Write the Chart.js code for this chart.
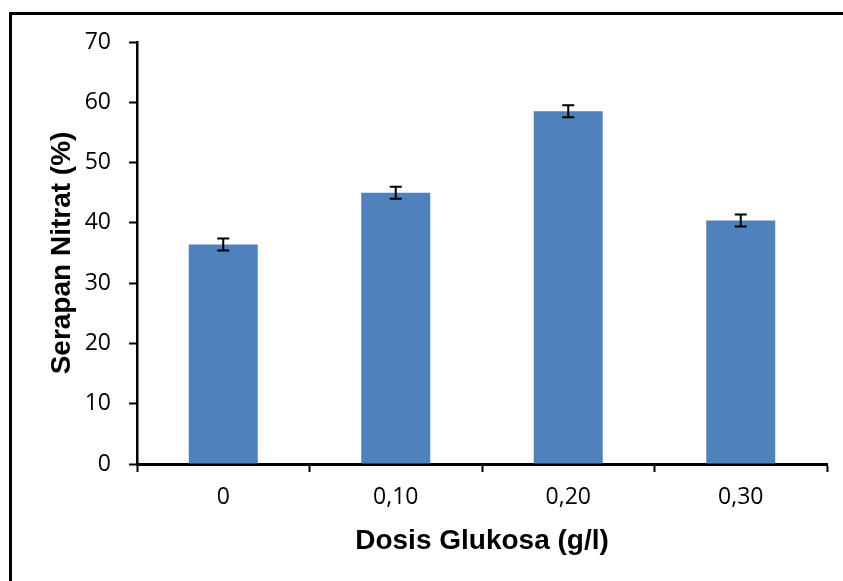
<!DOCTYPE html>
<html>
<head>
<meta charset="utf-8">
<script src="https://cdn.jsdelivr.net/npm/chart.js@4.4.0/dist/chart.umd.min.js"></script>
<style>
    html, body { margin: 0; padding: 0; background: #fff; overflow: hidden; }
    #wrap { position: relative; width: 843px; height: 581px; }
    #frame {
        position: absolute; left: 9px; top: 12px; width: 900px; height: 700px;
        border-left: 3px solid #000; border-top: 3px solid #000;
    }
    canvas { position: absolute; left: 0; top: 0; }
</style>
</head>
<body>
<div id="wrap">
    <div id="frame"></div>
    <canvas id="chart" width="843" height="581"></canvas>
</div>
<script>
// data
const categories = ['0', '0,10', '0,20', '0,30'];
const serapan = [36.4, 45.0, 58.5, 40.4];
const errors = [1.0, 1.0, 1.0, 1.0];
const yTicks = [0, 10, 20, 30, 40, 50, 60, 70];

const tickFont = { family: "'Open Sans', sans-serif", size: 23 };
const titleFont = { family: "'Liberation Sans', Arial, sans-serif", size: 28, weight: 'bold' };

// draw the error bars on top of the columns
const errorBars = {
    id: 'errorBars',
    afterDatasetsDraw(chart) {
        const ctx = chart.ctx;
        const meta = chart.getDatasetMeta(0);
        const y = chart.scales.y;
        ctx.save();
        ctx.strokeStyle = '#000';
        ctx.lineWidth = 2;
        meta.data.forEach((bar, i) => {
            const top = y.getPixelForValue(serapan[i] + errors[i]);
            const bot = y.getPixelForValue(serapan[i] - errors[i]);
            ctx.beginPath();
            ctx.moveTo(bar.x, top); ctx.lineTo(bar.x, bot);
            ctx.moveTo(bar.x - 6, top); ctx.lineTo(bar.x + 6, top);
            ctx.moveTo(bar.x - 6, bot); ctx.lineTo(bar.x + 6, bot);
            ctx.stroke();
        });
        ctx.restore();
    }
};

new Chart(document.getElementById('chart'), {
    type: 'bar',
    data: {
        labels: categories,
        datasets: [{
            data: serapan,
            backgroundColor: '#4F81BD',
            barPercentage: 0.4,
            categoryPercentage: 1.0
        }]
    },
    options: {
        responsive: false,
        animation: false,
        devicePixelRatio: 1,
        layout: { padding: { left: 45, right: 16, top: 42, bottom: 23 } },
        plugins: { legend: { display: false }, tooltip: { enabled: false } },
        scales: {
            x: {
                offset: true,
                afterFit: (scale) => { scale.height = 94; },
                grid: {
                    offset: true,
                    drawOnChartArea: false,
                    drawTicks: true,
                    tickLength: 8,
                    tickWidth: 2,
                    tickColor: '#000',
                    color: '#000'
                },
                border: { display: true, color: '#000', width: 3 },
                ticks: { font: tickFont, color: '#000', padding: 12, maxRotation: 0 },
                title: {
                    display: true,
                    text: 'Dosis Glukosa (g/l)',
                    font: titleFont,
                    color: '#000',
                    padding: { top: 0, bottom: 0 }
                }
            },
            y: {
                min: 0,
                max: 70,
                afterBuildTicks: (scale) => { scale.ticks = yTicks.map(v => ({ value: v })); },
                afterFit: (scale) => { scale.width = 92; },
                grid: {
                    drawOnChartArea: false,
                    drawTicks: true,
                    tickLength: 8,
                    tickWidth: 2,
                    tickColor: '#000',
                    color: '#000'
                },
                border: { display: true, color: '#000', width: 2.5 },
                ticks: { font: tickFont, color: '#000', padding: 18 },
                title: {
                    display: true,
                    text: 'Serapan Nitrat (%)',
                    font: titleFont,
                    color: '#000',
                    padding: { top: 0, bottom: 0 }
                }
            }
        }
    },
    plugins: [errorBars]
});
</script>
</body>
</html>
